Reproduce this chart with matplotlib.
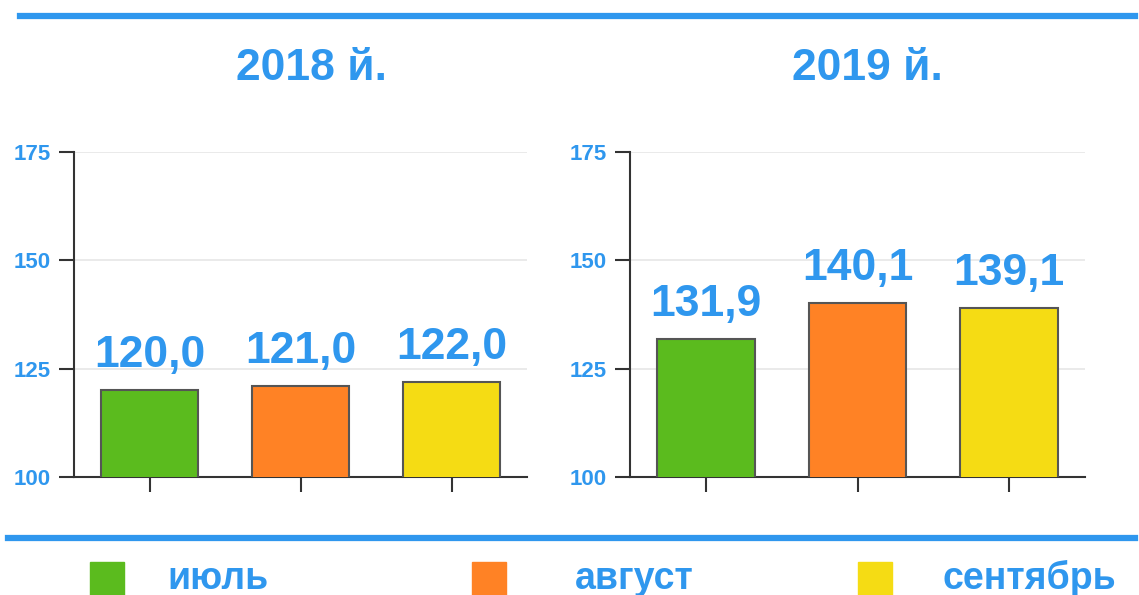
import matplotlib
matplotlib.use("Agg")
import matplotlib.pyplot as plt
from matplotlib.patches import Rectangle
from matplotlib.lines import Line2D

months = ["июль", "август", "сентябрь"]
years = ["2018 й.", "2019 й."]
values_2018 = [120.0, 121.0, 122.0]
values_2019 = [131.9, 140.1, 139.1]
yticks = [100, 125, 150, 175]
colors = ["#5bbb1e", "#ff8225", "#f5dc14"]
blue = "#2f97ee"

plt.rcParams['font.family'] = ['Liberation Sans', 'DejaVu Sans']

W, H = 1139, 595
fig = plt.figure(figsize=(W/100, H/100), dpi=100)

def fx(px):
    return px / W
def fy(py):
    return 1 - py / H

# blue lines
fig.add_artist(Line2D([fx(20), fx(1135)], [fy(16), fy(16)], color=blue, lw=4.5))
fig.add_artist(Line2D([fx(8), fx(1135)], [fy(538), fy(538)], color=blue, lw=4.5))

def fmt(v):
    return f"{v:.1f}".replace(".", ",")

axes_pos = [(74, 527), (630, 1085)]
title_x = [311, 867]
data = [values_2018, values_2019]
for (x0, x1), tx, vals, yr in zip(axes_pos, title_x, data, years):
    ax = fig.add_axes([fx(x0), fy(477), fx(x1) - fx(x0), fy(152) - fy(477)])
    xs = list(range(len(vals)))
    ax.bar(xs, vals, width=0.645, color=colors, edgecolor="#555555", linewidth=1.5, zorder=3)
    ax.set_xlim(-0.5, 2.5)
    ax.set_ylim(100, 175)
    ax.set_yticks(yticks)
    ax.set_xticks(xs)
    ax.set_xticklabels([])
    ax.tick_params(axis="y", length=11, width=1.5, color="#333333", labelsize=16,
                   labelcolor=blue, pad=6)
    ax.tick_params(axis="x", length=11, width=1.5, color="#333333")
    for lab in ax.get_yticklabels():
        lab.set_fontweight("bold")
    for s in ["top", "right"]:
        ax.spines[s].set_visible(False)
    for s in ["left", "bottom"]:
        ax.spines[s].set_color("#333333")
        ax.spines[s].set_linewidth(1.5)
    ax.grid(axis="y", color="#e6e6e6", lw=1.2, zorder=0)
    for x, v in zip(xs, vals):
        ax.annotate(fmt(v), (x, v), xytext=(0, 10), textcoords="offset points",
                    ha="center", va="bottom", fontsize=32, fontweight="bold", color=blue)
    fig.text(fx(tx), fy(69), yr, ha="center", va="center",
             fontsize=32, fontweight="bold", color=blue)

# legend
legend_sq = [90, 472, 858]
legend_tx = [167, 575, 942]
for sx, tx, c, m in zip(legend_sq, legend_tx, colors, months):
    fig.add_artist(Rectangle((fx(sx), fy(600)), fx(34), fy(562) - fy(600),
                             transform=fig.transFigure, color=c))
    fig.text(fx(tx), fy(589), m, ha="left", va="baseline", fontsize=27,
             fontweight="bold", color=blue)

fig.savefig("out.png", dpi=100)
